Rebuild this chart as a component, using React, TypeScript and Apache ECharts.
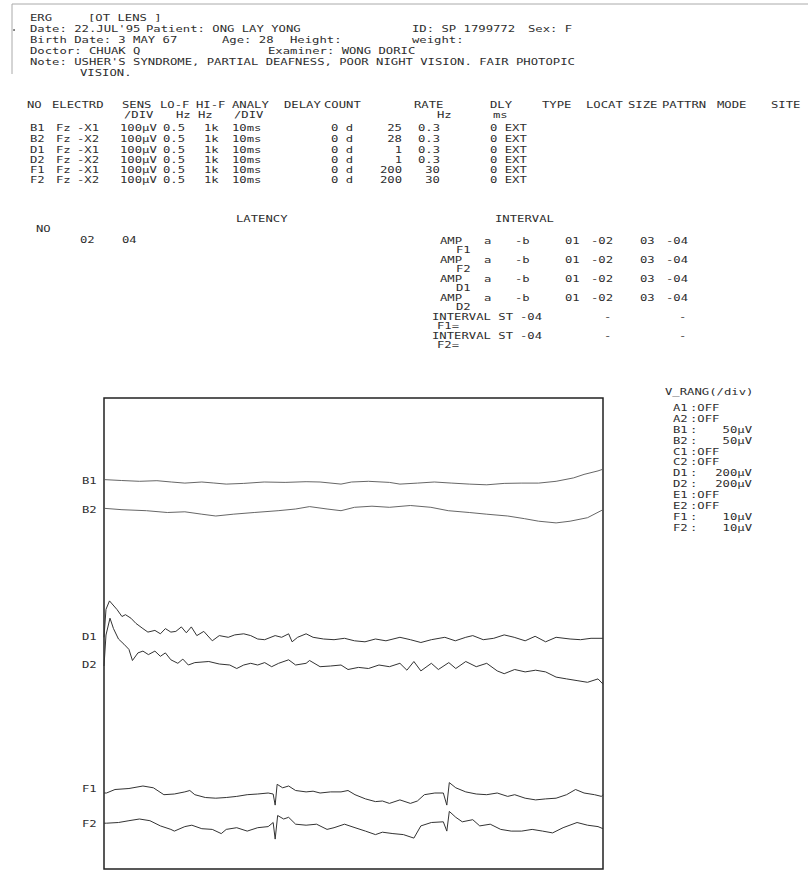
import React, { useEffect, useRef } from "react";
import * as echarts from "echarts";

// ---------- trace data: [time ms, deviation from trace baseline] ----------
const traceNames = ["B1", "B2", "D1", "D2", "F1", "F2"];
const baselines = [388, 359.3, 231.7, 204, 79.5, 44.8];

const b1 = [[0,1.4],[3.5,0.5],[7.1,-0.3],[10.6,0.3],[13.5,-1.0],[16.2,-2.1],[19.6,-1.0],[22.0,-2.0],[24.5,-3.1],[28.0,-2.4],[32.1,-1.0],[36.3,-1.4],[40.5,-0.7],[43.3,-1.0],[47.5,-3.1],[49.6,-1.0],[53.0,-0.3],[57.2,-1.4],[59.3,-3.1],[62.8,-2.1],[66.2,-1.0],[69.7,-2.1],[73.2,-3.1],[76.7,-3.8],[80.2,-2.4],[83.6,-2.1],[87.1,-2.1],[90.6,-0.3],[94.1,3.1],[96.2,6.6],[99.0,10.1],[100,11.8]];

const b2 = [[0,1.4],[3.6,0],[8.5,-1.0],[12.7,-2.8],[16.2,-2.1],[19.6,-4.5],[22.4,-6.3],[25.9,-4.5],[30.1,-2.8],[34.9,-1.0],[38.4,0.7],[41.2,3.1],[44.7,0.7],[47.5,-1.0],[50.2,2.4],[53.7,3.5],[57.2,2.4],[61.4,4.2],[65.5,2.4],[69.0,-1.0],[73.2,-2.8],[76.7,-4.5],[80.9,-6.3],[84.3,-9.0],[87.1,-11.5],[90.6,-13.2],[93.4,-11.5],[96.9,-8.0],[100,0]];

const d1 = [[0,0],[0.4,28],[1.1,36.4],[2.6,27.8],[3.6,20.8],[4.3,22.6],[5.4,19.1],[6.4,13.9],[7.8,8.7],[8.8,5.2],[10.2,6.9],[11.3,3.5],[12.3,8.7],[13.4,5.2],[14.4,5.9],[15.5,10.4],[16.5,4.5],[17.5,10.4],[18.6,1.7],[20.0,5.9],[21.7,-3.5],[23.1,1.7],[24.9,0],[26.2,2.4],[28.0,3.5],[29.4,1.7],[30.8,-1.7],[32.2,-2.4],[34.3,1.7],[35.6,0],[37.0,3.5],[37.7,-4.5],[38.8,0],[40.5,3.5],[41.9,0],[44.0,-1.7],[46.1,-2.4],[48.2,-1.0],[50.2,-3.5],[52.3,-4.5],[54.4,-1.7],[56.5,-3.5],[59.3,0],[61.4,-2.4],[63.5,-5.2],[65.6,-2.4],[68.3,0],[70.4,-3.5],[72.5,0],[73.9,1.7],[76.0,-2.4],[78.1,-1.0],[80.2,2.4],[82.2,0],[84.4,-3.5],[86.4,1.0],[88.5,-4.5],[90.6,0],[93.4,-1.7],[95.5,-2.4],[97.6,-1.0],[100,-1.0]];

const d2 = [[0,-1],[0.4,30],[1.2,46.8],[1.9,36.4],[2.9,26.0],[4.0,20.8],[5.0,15.6],[5.7,4.5],[6.8,12.1],[7.8,13.9],[8.9,10.4],[10.2,13.9],[11.3,8.7],[12.3,12.1],[13.4,5.2],[14.8,1.7],[15.8,5.9],[16.9,0],[18.2,2.4],[21.0,3.5],[23.1,1.0],[25.2,0],[26.6,-3.5],[28.0,0],[29.4,1.7],[30.8,0],[32.2,2.4],[33.6,-1.7],[35.0,1.7],[37.0,5.2],[38.4,0],[40.5,1.7],[41.2,4.5],[43.3,-1.7],[45.4,-1.0],[47.5,0],[48.9,-4.5],[51.0,-2.4],[53.0,-3.5],[55.1,0],[57.2,-1.7],[59.3,1.7],[60.7,-5.2],[62.1,3.5],[63.5,-5.9],[65.6,1.7],[67.0,-4.5],[69.1,2.4],[70.5,-3.5],[72.5,3.5],[74.6,-1.7],[76.7,1.7],[78.8,-5.9],[80.2,-8.7],[82.3,-4.5],[84.4,-6.9],[86.5,-5.2],[88.5,-6.9],[90.6,-12.1],[92.7,-13.9],[94.8,-15.6],[96.9,-17.3],[99.0,-13.9],[100,-19.1]];

const f1 = [[0,-3.5],[0.5,-3.5],[2.2,0],[5.0,1.0],[7.8,3.5],[9.9,1.7],[12.0,-5.2],[14.1,-4.5],[16.2,-2.4],[17.2,-1.0],[18.2,-5.2],[20.3,-8.0],[22.4,-8.7],[24.5,-8.0],[26.6,-6.9],[28.7,-5.2],[30.8,-4.5],[32.9,-3.5],[33.9,-4.5],[34.3,-15.6],[34.7,5.2],[35.8,1.7],[37.0,3.5],[38.4,-1.0],[40.5,-2.4],[41.9,-1.7],[43.3,-3.5],[45.4,-2.4],[47.5,-2.4],[48.9,-1.0],[50.3,-5.2],[52.4,-9.4],[54.4,-12.1],[55.8,-11.5],[57.2,-13.9],[59.3,-10.4],[61.4,-13.9],[62.8,-11.5],[64.2,-5.2],[66.3,-3.5],[68.0,-3.5],[68.7,-15.6],[69.2,6.9],[70.5,1.7],[72.5,-2.4],[74.6,-4.5],[76.7,-5.2],[78.8,-3.5],[80.9,-6.9],[82.3,-5.2],[84.4,-8.7],[86.5,-10.4],[88.5,-9.4],[90.6,-8.7],[92.7,-5.2],[94.5,0],[96.2,-3.5],[98.3,-5.2],[99.7,-6.9],[100,-5.2]];

const f2 = [[0,1.0],[0.5,1.0],[2.9,1.7],[5.0,3.5],[7.1,5.2],[9.2,3.5],[11.3,-1.7],[13.4,-5.2],[14.1,-6.9],[16.2,-2.4],[17.6,-1.0],[19.6,-4.5],[21.7,-5.2],[23.5,-9.4],[24.5,-5.2],[26.6,-3.5],[28.7,-6.9],[30.8,-3.5],[32.9,-2.4],[33.9,1.7],[34.3,-14.9],[34.8,8.7],[36.0,5.2],[37.0,6.9],[38.4,0],[40.5,-1.0],[42.6,0],[44.7,-5.2],[46.1,-3.5],[48.2,0],[50.3,-3.5],[52.4,-6.9],[54.4,-10.4],[55.8,-8.0],[57.9,-9.4],[60.0,-10.4],[62.1,-13.9],[63.5,-1.7],[65.6,1.7],[68.0,2.4],[68.7,-6.9],[69.2,12.8],[70.5,6.9],[71.8,2.4],[73.9,4.5],[75.3,-1.7],[77.4,0],[79.5,-5.2],[81.6,-6.9],[83.7,-6.9],[85.8,-5.2],[87.9,-6.9],[89.9,-8.7],[92.0,-3.5],[94.8,1.7],[96.9,-1.0],[99.0,-2.4],[100,-4.5]];

const traces = [b1, b2, d1, d2, f1, f2];

// ---------- report texts ----------
const headerLine1 = ["ERG", "[OT LENS ]"];
const headerLine2 = ["Date: 22.JUL'95", "Patient: ONG LAY YONG", "ID: SP 1799772", "Sex: F"];
const headerLine3 = ["Birth Date: 3 MAY 67", "Age: 28", "Height:", "weight:"];
const headerLine4 = ["Doctor: CHUAK Q", "Examiner: WONG DORIC"];
const noteLines = ["Note: USHER'S SYNDROME, PARTIAL DEAFNESS, POOR NIGHT VISION. FAIR PHOTOPIC", "VISION."];

const tableHeader = ["NO", "ELECTRD", "SENS", "LO-F", "HI-F", "ANALY", "DELAY", "COUNT", "RATE", "DLY", "TYPE", "LOCAT", "SIZE", "PATTRN", "MODE", "SITE"];
const tableUnits = ["/DIV", "Hz", "Hz", "/DIV", "Hz", "ms"];
const rowIds = ["B1", "B2", "D1", "D2", "F1", "F2"];
const rowElectrodes = ["Fz", "Fz", "Fz", "Fz", "Fz", "Fz"];
const rowRefs = ["-X1", "-X2", "-X1", "-X2", "-X1", "-X2"];
const rowSens = ["100µV", "100µV", "100µV", "100µV", "100µV", "100µV"];
const rowLoF = ["0.5", "0.5", "0.5", "0.5", "0.5", "0.5"];
const rowHiF = ["1k", "1k", "1k", "1k", "1k", "1k"];
const rowAnaly = ["10ms", "10ms", "10ms", "10ms", "10ms", "10ms"];
const rowDelay = ["0 d", "0 d", "0 d", "0 d", "0 d", "0 d"];
const rowCount = ["25", "28", "1", "1", "200", "200"];
const rowRate = ["0.3", "0.3", "0.3", "0.3", "30", "30"];
const rowDly = ["0 EXT", "0 EXT", "0 EXT", "0 EXT", "0 EXT", "0 EXT"];

const latencyCols = ["02", "04"];
const ampRows = ["F1", "F2", "D1", "D2"];
const ampCols = ["a", "-b", "01", "-02", "03", "-04"];
const intervalRows = ["F1=", "F2="];
const intervalCols = ["-04", "-", "-"];

const vRangNames = ["A1", "A2", "B1", "B2", "C1", "C2", "D1", "D2", "E1", "E2", "F1", "F2"];
const vRangValues = ["OFF", "OFF", "50µV", "50µV", "OFF", "OFF", "200µV", "200µV", "OFF", "OFF", "10µV", "10µV"];

const INK = "#2e2e2e";
const FONT = '9px "DejaVu Sans Mono"';
const SX = 1.36;

function txt(x: number, y: number, s: string, align: string = "left") {
  return {
    type: "text",
    x,
    y,
    scaleX: SX,
    silent: true,
    style: {
      text: s,
      font: FONT,
      fill: INK,
      align,
      textAlign: align,
      verticalAlign: "middle",
      textVerticalAlign: "middle",
    },
  };
}

function buildTexts() {
  const g: any[] = [];
  // page edge of the scan
  g.push({ type: "line", silent: true, shape: { x1: 12, y1: 4, x2: 808, y2: 4 }, style: { stroke: "#aaa", lineWidth: 1 } });
  g.push({ type: "line", silent: true, shape: { x1: 12, y1: 4, x2: 12, y2: 74 }, style: { stroke: "#aaa", lineWidth: 1 } });
  g.push({ type: "circle", silent: true, shape: { cx: 14, cy: 30, r: 0.9 }, style: { fill: "#555" } });

  // header
  g.push(txt(30, 18, headerLine1[0]));
  g.push(txt(88, 18, headerLine1[1]));
  const l2x = [30, 146, 412, 528];
  headerLine2.forEach((s, i) => g.push(txt(l2x[i], 29, s)));
  const l3x = [30, 222, 290, 412];
  headerLine3.forEach((s, i) => g.push(txt(l3x[i], 40, s)));
  const l4x = [30, 268];
  headerLine4.forEach((s, i) => g.push(txt(l4x[i], 51, s)));
  g.push(txt(30, 62, noteLines[0]));
  g.push(txt(80, 73, noteLines[1]));

  // table
  const hx = [27, 52, 122, 160, 196, 232, 284, 324, 414, 490, 542, 586, 628, 662, 717, 771];
  tableHeader.forEach((s, i) => g.push(txt(hx[i], 105, s)));
  const ux = [124, 176, 198, 234, 437, 493];
  tableUnits.forEach((s, i) => g.push(txt(ux[i], 115, s)));
  const rowY = [128, 139, 150, 160, 170, 180];
  rowIds.forEach((id, r) => {
    const y = rowY[r];
    g.push(txt(30, y, id));
    g.push(txt(56, y, rowElectrodes[r]));
    g.push(txt(77, y, rowRefs[r]));
    g.push(txt(120, y, rowSens[r]));
    g.push(txt(163, y, rowLoF[r]));
    g.push(txt(204, y, rowHiF[r]));
    g.push(txt(232, y, rowAnaly[r]));
    g.push(txt(331, y, rowDelay[r]));
    g.push(txt(402, y, rowCount[r], "right"));
    g.push(txt(440, y, rowRate[r], "right"));
    g.push(txt(490, y, rowDly[r]));
  });

  // latency / interval
  g.push(txt(236, 219, "LATENCY"));
  g.push(txt(495, 219, "INTERVAL"));
  g.push(txt(36, 229, "NO"));
  g.push(txt(80, 240, latencyCols[0]));
  g.push(txt(122, 240, latencyCols[1]));
  const ampY = [241, 260, 279, 298];
  const ampX = [484, 515, 565, 591, 640, 666];
  ampRows.forEach((name, r) => {
    g.push(txt(440, ampY[r], "AMP"));
    ampCols.forEach((c, k) => g.push(txt(ampX[k], ampY[r], c)));
    g.push(txt(456, ampY[r] + 9, name));
  });
  const intY = [317, 336];
  const intX = [520, 604, 679];
  intervalRows.forEach((name, r) => {
    g.push(txt(432, intY[r], "INTERVAL ST"));
    intervalCols.forEach((c, k) => g.push(txt(intX[k], intY[r], c)));
    g.push(txt(437, intY[r] + 9, name));
  });

  // V_RANG list
  g.push(txt(665, 392, "V_RANG(/div)"));
  vRangNames.forEach((n, i) => {
    const y = 408 + i * 10.9;
    g.push(txt(673, y, n));
    if (vRangValues[i] === "OFF") {
      g.push(txt(690, y, ":OFF"));
    } else {
      g.push(txt(690, y, ":"));
      g.push(txt(752, y, vRangValues[i], "right"));
    }
  });
  return g;
}

export default function App() {
  const ref = useRef<HTMLDivElement>(null);
  useEffect(() => {
    if (!ref.current) return;
    const chart = echarts.init(ref.current, undefined, { renderer: "svg" });
    const series = traces.map((tr, i) => ({
      type: "line",
      name: traceNames[i],
      data: tr.map(([t, d]) => [t, baselines[i] + d]),
      symbol: "none",
      showSymbol: false,
      silent: true,
      lineStyle: { color: i < 2 ? "#555" : "#333", width: i < 2 ? 0.9 : 1 },
    }));
    chart.setOption({
      animation: false,
      backgroundColor: "#ffffff",
      grid: {
        left: 104,
        top: 398,
        width: 499,
        height: 471,
        show: true,
        borderColor: "#222",
        borderWidth: 1.5,
        backgroundColor: "transparent",
      },
      xAxis: { type: "value", min: 0, max: 100, show: false },
      yAxis: { type: "value", min: 0, max: 471, show: false },
      series,
    });
    const labels = traceNames.map((n, i) => {
      const p = chart.convertToPixel({ gridIndex: 0 }, [0, baselines[i]]) as number[];
      return txt(82, p[1], n);
    });
    chart.setOption({ graphic: { elements: [...buildTexts(), ...labels] } });
    return () => chart.dispose();
  }, []);
  return (
    <div
      ref={ref}
      style={{ position: "fixed", left: 0, top: 0, width: 808, height: 881, background: "#fff" }}
    />
  );
}
